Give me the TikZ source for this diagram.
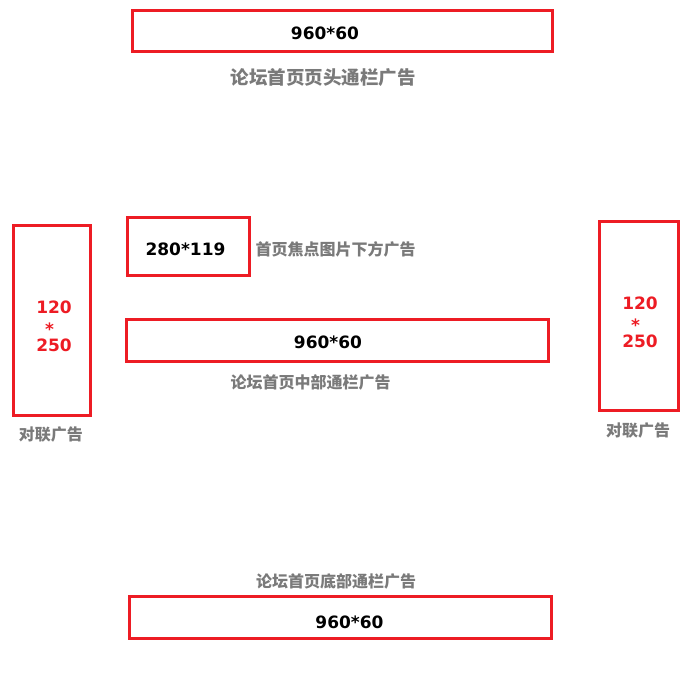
\documentclass[tikz,border=0pt]{standalone}
\usepackage{fontspec}
\setmainfont{DejaVu Sans}
\newfontfamily\cjk{Noto Sans CJK SC}
\definecolor{adred}{RGB}{237,28,36}
\definecolor{labelgray}{RGB}{122,122,122}
\begin{document}
\begin{tikzpicture}[x=1pt,y=-1pt,
  adbox/.style={draw=adred,line width=3pt,minimum width=#1,inner sep=0pt,fill=none},
  sizetext/.style={font=\fontsize{17}{17}\selectfont\bfseries,text=black,inner sep=0pt},
  redtext/.style={font=\fontsize{17}{17}\selectfont\bfseries,text=adred,inner sep=0pt},
  cjklabel/.style={font=\cjk\fontsize{16}{16}\selectfont\bfseries,text=labelgray,inner sep=0pt},
  biglabel/.style={font=\cjk\fontsize{18.5}{18.5}\selectfont\bfseries,text=labelgray,inner sep=0pt}]
\useasboundingbox[fill=white] (0,0) rectangle (689,687);
% boxes
\node[adbox=420pt,minimum height=41pt] (top) at (342.5,31) {};
\node[adbox=122pt,minimum height=58pt] (focus) at (188.5,246.5) {};
\node[adbox=422pt,minimum height=42pt] (mid) at (337.5,340.5) {};
\node[adbox=77pt,minimum height=190pt] (left) at (52,320.5) {};
\node[adbox=79pt,minimum height=189pt] (right) at (639,316) {};
\node[adbox=422pt,minimum height=42pt] (bottom) at (340.5,617.5) {};
% size texts
\node[sizetext] (toptxt) at (325,33) {960*60};
\node[sizetext] (focustxt) at (185.5,249) {280*119};
\node[sizetext] (midtxt) at (328,342) {960*60};
\node[sizetext] (bottomtxt) at (349.5,622) {960*60};
\node[redtext] (l1) at (54,307) {120};
\node[redtext] (l2) at (49.5,329) {*};
\node[redtext] (l3) at (54,345) {250};
\node[redtext] (r1) at (640,303) {120};
\node[redtext] (r2) at (635.5,325) {*};
\node[redtext] (r3) at (640,341) {250};
% labels
\node[biglabel] (toplab) at (323,78) {论坛首页页头通栏广告};
\node[cjklabel,anchor=west] (focuslab) at (255.5,249) {首页焦点图片下方广告};
\node[cjklabel] (midlab) at (310.5,382) {论坛首页中部通栏广告};
\node[cjklabel] (leftlab) at (51,434) {对联广告};
\node[cjklabel] (rightlab) at (638,430) {对联广告};
\node[cjklabel] (bottomlab) at (336,581) {论坛首页底部通栏广告};
\end{tikzpicture}
\end{document}
